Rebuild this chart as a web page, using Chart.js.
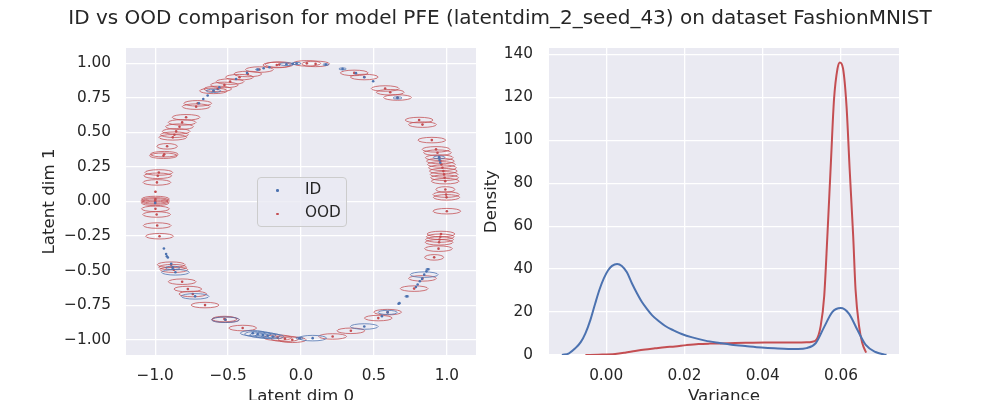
<!DOCTYPE html>
<html>
<head>
<meta charset="utf-8">
<script src="https://cdn.jsdelivr.net/npm/chart.js@4.4.0/dist/chart.umd.min.js"></script>
<style>
  html, body { margin: 0; padding: 0; background: #fff; }
  #fig { position: relative; width: 1000px; height: 400px; overflow: hidden;
         font-family: "DejaVu Sans", sans-serif; color: #262626; }
  #title { position: absolute; left: 0; top: 7px; width: 1000px; text-align: center;
           font-size: 20px; line-height: 20px; white-space: nowrap; }
  #leftWrap { position: absolute; left: 0; top: 0; width: 480px; height: 400px; }
  #rightWrap { position: absolute; left: 480px; top: 0; width: 520px; height: 400px; }
  canvas { display: block; }
  #legend { position: absolute; left: 257px; top: 177px; width: 90px; height: 50px; box-sizing: border-box;
            border: 1px solid #cccccc; border-radius: 4px; background: rgba(234, 234, 242, 0.8); }
  .lg-dot { position: absolute; width: 2.6px; height: 2.6px; border-radius: 50%; }
  .lg-txt { position: absolute; font-size: 15.3px; line-height: 15.3px; white-space: nowrap; }
</style>
</head>
<body>
<div id="fig">
  <div id="leftWrap"><canvas id="scatterChart" width="480" height="400"></canvas></div>
  <div id="rightWrap"><canvas id="densityChart" width="520" height="400"></canvas></div>
  <div id="title">ID vs OOD comparison for model PFE (latentdim_2_seed_43) on dataset FashionMNIST</div>
  <div id="legend"></div>
  <div class="lg-dot" style="left:276px; top:189.4px; background:#4c72b0"></div>
  <div class="lg-txt" style="left:305px; top:182.4px">ID</div>
  <div class="lg-dot" style="left:276px; top:212.7px; background:#c44e52"></div>
  <div class="lg-txt" style="left:305px; top:205.4px">OOD</div>
</div>
<script>
// Latent means (dim 0, dim 1) and ellipse extents (full width / height) for ID samples
const idX = [-0.03, -0.057, -0.10, -0.217, -0.256, -0.297, -0.37, -0.445, -0.56, -0.60, -0.64, -0.67, -0.70,
  0.17, 0.285, 0.377, 0.434, 0.495, 0.662, 0.947, 0.95, 0.955,
  -1.0, -0.94, -0.925, -0.92, -0.913, -0.89, -0.88, -0.861, -0.726, -0.518,
  -0.331, -0.297, -0.262, -0.228, -0.194, -0.01, 0.08, 0.434, 0.555, 0.594,
  0.669, 0.675, 0.726, 0.788, 0.80, 0.815, 0.83, 0.845, 0.86, 0.87];
const idY = [0.998, 0.995, 0.993, 0.971, 0.964, 0.954, 0.93, 0.886, 0.826, 0.80, 0.766, 0.741, 0.71,
  0.99, 0.959, 0.928, 0.899, 0.87, 0.749, 0.319, 0.30, 0.28,
  -0.01, -0.34, -0.38, -0.396, -0.405, -0.45, -0.48, -0.512, -0.686, -0.855,
  -0.952, -0.959, -0.966, -0.971, -0.976, -0.988, -0.988, -0.904, -0.83, -0.802,
  -0.739, -0.735, -0.686, -0.618, -0.60, -0.577, -0.56, -0.529, -0.505, -0.49];
const idW = [0.06, 0, 0.09, 0, 0, 0.03, 0, 0, 0, 0.10, 0, 0, 0,
  0.04, 0.05, 0, 0, 0, 0.06, 0.08, 0, 0,
  0, 0, 0, 0, 0, 0, 0.10, 0.19, 0.19, 0.19,
  0.17, 0.18, 0.18, 0.17, 0.15, 0.05, 0.19, 0.19, 0, 0.13,
  0, 0, 0.03, 0, 0, 0, 0, 0.19, 0, 0.03];
const idH = [0.016, 0, 0.02, 0, 0, 0.01, 0, 0, 0, 0.024, 0, 0, 0,
  0.012, 0.014, 0, 0, 0, 0.016, 0.02, 0, 0,
  0, 0, 0, 0, 0, 0, 0.024, 0.04, 0.04, 0.04,
  0.038, 0.04, 0.04, 0.038, 0.034, 0.014, 0.04, 0.04, 0, 0.03,
  0, 0, 0.01, 0, 0, 0, 0, 0.04, 0, 0.01];

// Latent means and ellipse extents for OOD samples
const oodX = [-0.166, 0.04, 0.10, 0.365, 0.434, 0.577, 0.612, 0.662, 0.81, 0.833, 0.897,
  0.926, 0.936, 0.948, 0.956, 0.963, 0.97, 0.976, 0.981, 0.985, 0.989,
  0.99, 0.995, 0.998, 1.0, 0.96, 0.955, 0.95, 0.947, 0.943, 0.913,
  0.833, 0.776, 0.594, 0.53, 0.342, 0.217, -0.06, -0.11, -0.16,
  -0.40, -0.518, -0.525, -0.658, -0.742, -0.776, -0.815, -0.872, -0.88, -0.89,
  -0.97, -0.986, -0.99, -0.998, -1.0, -1.0, -1.0, -0.998, -0.998,
  -0.988, -0.982, -0.975, -0.943, -0.938, -0.918, -0.879, -0.868, -0.856, -0.833,
  -0.815, -0.788, -0.719, -0.708, -0.60, -0.571, -0.525, -0.486, -0.422, -0.365, -0.285, -0.149];
const oodY = [0.987, 0.999, 0.995, 0.93, 0.90, 0.817, 0.79, 0.752, 0.589, 0.556, 0.444,
  0.377, 0.353, 0.317, 0.292, 0.268, 0.244, 0.22, 0.196, 0.172, 0.147,
  0.087, 0.05, 0.03, -0.07, -0.235, -0.255, -0.275, -0.295, -0.341, -0.404,
  -0.556, -0.63, -0.80, -0.843, -0.935, -0.976, -1.0, -0.993, -0.985,
  -0.915, -0.855, -0.85, -0.749, -0.669, -0.633, -0.58, -0.493, -0.475, -0.457,
  -0.251, -0.174, -0.094, -0.053, -0.01, 0.0, 0.008, 0.018, 0.07,
  0.138, 0.186, 0.21, 0.331, 0.342, 0.399, 0.464, 0.483, 0.507, 0.541,
  0.572, 0.609, 0.686, 0.71, 0.80, 0.814, 0.843, 0.867, 0.899, 0.922, 0.954, 0.99];
const oodW = [0.19, 0.19, 0.19, 0.19, 0.19, 0.19, 0.19, 0.19, 0.19, 0.19, 0.19,
  0.19, 0.19, 0.19, 0.19, 0.19, 0.19, 0.19, 0.19, 0.19, 0.19,
  0.13, 0.18, 0.18, 0.19, 0.19, 0.19, 0.19, 0.19, 0.19, 0.13,
  0.19, 0.19, 0.19, 0.19, 0.19, 0.19, 0.19, 0.19, 0.19,
  0.19, 0.19, 0.17, 0.19, 0.19, 0.19, 0.19, 0.19, 0.19, 0.19,
  0.19, 0.19, 0.19, 0.19, 0.19, 0.19, 0.19, 0.19, 0.012,
  0.19, 0.19, 0.19, 0.19, 0.19, 0.14, 0.19, 0.19, 0.19, 0.19,
  0.19, 0.19, 0.19, 0.19, 0.19, 0.19, 0.19, 0.19, 0.19, 0.19, 0.19, 0.19];
const oodH = oodW.map(function (w) { return w > 0.05 ? 0.04 : 0.006; });

// Kernel density of predicted variance
const idVar = [-0.0113, -0.0095, -0.0079, -0.0065, -0.0053, -0.004, -0.0028, -0.0017, -0.0006, 0.0005,
  0.0015, 0.0028, 0.004, 0.0053, 0.0066, 0.0078, 0.0091, 0.0104, 0.0117, 0.0134, 0.0151, 0.0172,
  0.0193, 0.022, 0.0253, 0.029, 0.032, 0.036, 0.0397, 0.043, 0.0465, 0.049, 0.0512, 0.0536,
  0.0557, 0.0578, 0.0599, 0.062, 0.0642, 0.0663, 0.0688, 0.071, 0.0716];
const idDensity = [0, 0.8, 3.1, 6.0, 10.1, 16.5, 24.0, 30.5, 35.7, 39.5,
  41.5, 42.4, 41.5, 38.5, 33.3, 29.0, 24.8, 21.5, 18.6, 15.8, 13.5, 11.5,
  9.8, 8.2, 6.7, 5.6, 4.8, 4.1, 3.5, 3.1, 2.8, 2.8, 3.2, 5.7,
  13.1, 20.1, 21.9, 19.3, 11.6, 4.7, 1.4, 0.3, 0.1];
const oodVar = [-0.0053, -0.002, 0.0023, 0.0048, 0.0074, 0.01, 0.0125, 0.015, 0.0176, 0.0205,
  0.0236, 0.0265, 0.0295, 0.033, 0.0363, 0.0405, 0.0448, 0.048, 0.0512, 0.0527, 0.0536,
  0.0548, 0.0557, 0.0565, 0.0574, 0.0582, 0.0591, 0.0597, 0.0605, 0.0614, 0.0622, 0.0631,
  0.0637, 0.0646, 0.0654, 0.0664];
const oodDensity = [0, 0.15, 0.5, 1.1, 1.9, 2.6, 3.1, 3.6, 4.0, 4.6,
  5.1, 5.3, 5.4, 5.6, 5.7, 5.8, 5.8, 5.8, 5.9, 6.2, 6.9,
  13.6, 27.5, 55.3, 89.5, 119.0, 133.5, 136.3, 133.5, 115.8, 86.4, 55.3,
  30.5, 13.5, 5.7, 1.1];

// Tick positions
const latentTicksX = [-1.0, -0.5, 0.0, 0.5, 1.0];
const latentTicksY = [-1.0, -0.75, -0.5, -0.25, 0.0, 0.25, 0.5, 0.75, 1.0];
const varTicks = [0.0, 0.02, 0.04, 0.06];
const densityTicks = [0, 20, 40, 60, 80, 100, 120, 140];

const BLUE = '#4c72b0';
const RED = '#c44e52';
const TXT = '#262626';
const tickFont = { family: 'DejaVu Sans', size: 15.3 };
const labelFont = { family: 'DejaVu Sans', size: 16.7 };

function fmt(v, d) {
  const s = Math.abs(v).toFixed(d);
  return (v < -1e-9 ? '\u2212' : '') + s;
}

function points(xs, ys, ws, hs) {
  return xs.map(function (x, i) {
    return { x: x, y: ys[i], w: ws ? ws[i] : 0, h: hs ? hs[i] : 0 };
  });
}

// grey plot background like seaborn darkgrid
const plotBg = {
  id: 'plotBg',
  beforeDraw(chart) {
    const { ctx, chartArea: a } = chart;
    ctx.save();
    ctx.fillStyle = '#eaeaf2';
    ctx.fillRect(a.left, a.top, a.width, a.height);
    ctx.restore();
  }
};

// uncertainty ellipses around each latent mean
const ellipses = {
  id: 'ellipses',
  afterDatasetDraw(chart, args) {
    const ds = chart.data.datasets[args.index];
    if (!ds.ellipse) return;
    const { ctx, chartArea: a } = chart;
    const xs = chart.scales.x, ys = chart.scales.y;
    ctx.save();
    ctx.beginPath();
    ctx.rect(a.left, a.top, a.width, a.height);
    ctx.clip();
    ctx.strokeStyle = ds.borderColor;
    ctx.globalAlpha = 0.85;
    ctx.lineWidth = 0.9;
    ds.data.forEach(function (p) {
      if (!p.w) return;
      const cx = xs.getPixelForValue(p.x), cy = ys.getPixelForValue(p.y);
      const rx = Math.abs(xs.getPixelForValue(p.x + p.w / 2) - cx);
      const ry = Math.abs(ys.getPixelForValue(p.y + p.h / 2) - cy);
      ctx.beginPath();
      ctx.ellipse(cx, cy, rx, ry, 0, 0, Math.PI * 2);
      ctx.stroke();
    });
    ctx.restore();
  }
};

function fixedScale(size, horizontal) {
  return function (scale) {
    if (horizontal) scale.height = size; else scale.width = size;
  };
}

function setTicks(values) {
  return function (scale) {
    scale.ticks = values.map(function (v) { return { value: v }; });
  };
}

const gridOpts = { color: '#ffffff', lineWidth: 1.3, drawTicks: false };

new Chart(document.getElementById('scatterChart'), {
  type: 'scatter',
  data: {
    datasets: [
      { label: 'ID', data: points(idX, idY, idW, idH), backgroundColor: BLUE, borderColor: BLUE,
        pointRadius: 1.3, pointBorderWidth: 0, ellipse: true },
      { label: 'OOD', data: points(oodX, oodY, oodW, oodH), backgroundColor: RED, borderColor: RED,
        pointRadius: 1.3, pointBorderWidth: 0, ellipse: true }
    ]
  },
  options: {
    responsive: false,
    animation: false,
    layout: { autoPadding: false, padding: { top: 48, right: 4, left: 0, bottom: 0 } },
    plugins: { legend: { display: false }, tooltip: { enabled: false } },
    scales: {
      x: {
        type: 'linear', min: -1.2, max: 1.2,
        afterFit: fixedScale(45, true),
        afterBuildTicks: setTicks(latentTicksX),
        grid: gridOpts, border: { display: false },
        ticks: { color: TXT, font: tickFont, padding: 11.5, maxRotation: 0,
                 callback: function (v) { return fmt(v, 1); } },
        title: { display: true, text: 'Latent dim 0', color: TXT, font: labelFont,
                 padding: { top: 0, bottom: -7 } }
      },
      y: {
        type: 'linear', min: -1.11, max: 1.11,
        afterFit: fixedScale(126, false),
        afterBuildTicks: setTicks(latentTicksY),
        grid: gridOpts, border: { display: false },
        ticks: { color: TXT, font: tickFont, padding: 15,
                 callback: function (v) { return fmt(v, 2); } },
        title: { display: true, text: 'Latent dim 1', color: TXT, font: labelFont,
                 padding: { top: 40, bottom: 0 } }
      }
    }
  },
  plugins: [plotBg, ellipses]
});

new Chart(document.getElementById('densityChart'), {
  type: 'scatter',
  data: {
    datasets: [
      { label: 'ID', data: points(idVar, idDensity), showLine: true, borderColor: BLUE,
        borderWidth: 2, pointRadius: 0, cubicInterpolationMode: 'monotone' },
      { label: 'OOD', data: points(oodVar, oodDensity), showLine: true, borderColor: RED,
        borderWidth: 2, pointRadius: 0, cubicInterpolationMode: 'monotone' }
    ]
  },
  options: {
    responsive: false,
    animation: false,
    layout: { autoPadding: false, padding: { top: 48, right: 101, left: 0, bottom: 0 } },
    plugins: { legend: { display: false }, tooltip: { enabled: false } },
    scales: {
      x: {
        type: 'linear', min: -0.0146, max: 0.0748,
        afterFit: fixedScale(45, true),
        afterBuildTicks: setTicks(varTicks),
        grid: gridOpts, border: { display: false },
        ticks: { color: TXT, font: tickFont, padding: 11.5, maxRotation: 0,
                 callback: function (v) { return fmt(v, 2); } },
        title: { display: true, text: 'Variance', color: TXT, font: labelFont,
                 padding: { top: 0, bottom: -7 } }
      },
      y: {
        type: 'linear', min: 0, max: 143,
        afterFit: fixedScale(69, false),
        afterBuildTicks: setTicks(densityTicks),
        grid: gridOpts, border: { display: false },
        ticks: { color: TXT, font: tickFont, padding: 16,
                 callback: function (v) { return fmt(v, 0); } },
        title: { display: true, text: 'Density', color: TXT, font: labelFont,
                 padding: { top: 2, bottom: 0 } }
      }
    }
  },
  plugins: [plotBg]
});
</script>
</body>
</html>
